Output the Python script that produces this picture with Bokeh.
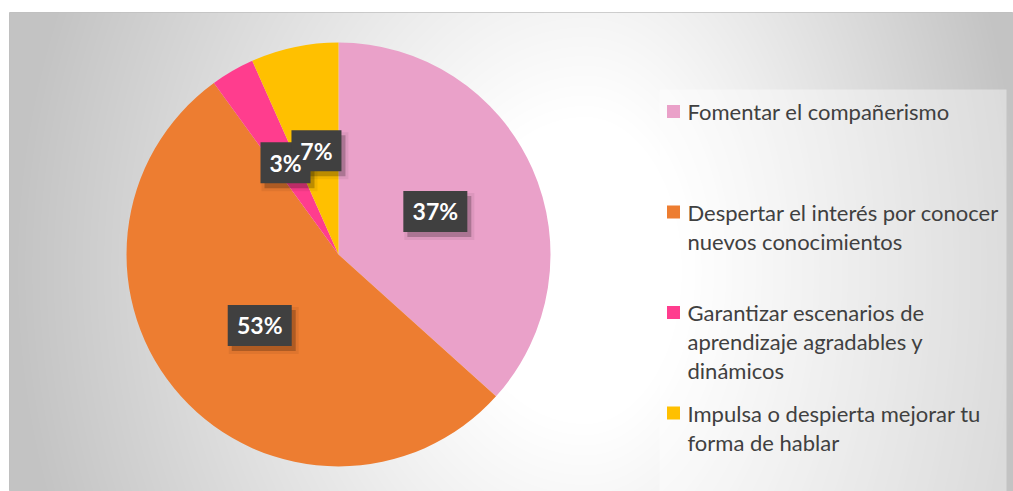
import numpy as np
from bokeh.plotting import figure
from bokeh.models import Range1d, ColumnDataSource
from bokeh.core.properties import value
from bokeh.embed import file_html
from bokeh.resources import INLINE

# ---------------- data ----------------
categories = [
    "Fomentar el compañerismo",
    "Despertar el interés por conocer nuevos conocimientos",
    "Garantizar escenarios de aprendizaje agradables y dinámicos",
    "Impulsa o despierta mejorar tu forma de hablar",
]
legend_lines = [
    ["Fomentar el compañerismo"],
    ["Despertar el interés por conocer", "nuevos conocimientos"],
    ["Garantizar escenarios de", "aprendizaje agradables y", "dinámicos"],
    ["Impulsa o despierta mejorar tu", "forma de hablar"],
]
counts = [11, 16, 1, 2]
colors = ["#EAA1C9", "#ED7D31", "#FF3D8E", "#FFC000"]

# ---------------- layout ----------------
W, H = 1013, 491
X0, X1 = 9, 1013          # frame in screen px
SY0, SY1 = 12, 491
def Y(sy):                # screen y -> data y
    return 491 - sy

p = figure(width=W, height=H, output_backend="svg", toolbar_location=None,
           x_range=Range1d(X0, X1), y_range=Range1d(Y(SY1), Y(SY0)),
           min_border_left=X0, min_border_top=SY0, min_border_right=0, min_border_bottom=0)
p.axis.visible = False
p.grid.visible = False
p.outline_line_color = "#c0c0c0"
p.outline_line_width = 1
p.border_fill_color = "white"
p.background_fill_color = "#e0e0e0"

# background radial gradient
fw, fh = X1 - X0, SY1 - SY0
sx = np.arange(fw) + X0 + 0.5
sy = np.arange(fh)[::-1] + SY0 + 0.5   # row 0 = bottom
gx, gy = np.meshgrid(sx, sy)
cx, cy = 585.0, 270.0
dx = gx - cx
scx = np.where(dx < 0, 575.0, 440.0)
t = np.sqrt((dx / scx) ** 2 + ((gy - cy) / 700.0) ** 2)
v = 255 - 60 * np.clip((t - 0.22) / 0.78, 0, 1) ** 1.05
v = v.astype(np.uint32)
img = (255 << 24) | (v << 16) | (v << 8) | v
p.image_rgba(image=[img.astype(np.uint32)], x=X0, y=Y(SY1), dw=fw, dh=fh)

# legend box (slightly lighter)
p.quad(left=[659], right=[1006], top=[Y(89)], bottom=[Y(SY1) - 5],
       fill_color="white", fill_alpha=0.4, line_color=None)

# ---------------- pie ----------------
total = sum(counts)
fr = np.array(counts) / total
cum = np.concatenate([[0], np.cumsum(fr)])
start = np.pi / 2 - 2 * np.pi * cum[:-1]
end = np.pi / 2 - 2 * np.pi * cum[1:]
PCX, PCY, R = 338, Y(254), 212
src = ColumnDataSource(dict(start=start, end=end, color=colors, cat=categories))
p.wedge(x=PCX, y=PCY, radius=R, start_angle="start", end_angle="end",
        direction="clock", fill_color="color", line_color=None, source=src)

# ---------------- data labels ----------------
mid = (start + end) / 2
lx = PCX + 0.5 * R * np.cos(mid)
ly = PCY + 0.5 * R * np.sin(mid)
pct = [f"{round(100 * f)}%" for f in fr]
bw = [14 * len(s) + 22 for s in pct]
lab = ColumnDataSource(dict(x=lx, y=ly, text=pct, w=bw, w2=[b + 6 for b in bw],
                            xs=lx + 4, ys=ly - 5))
p.rect(x="xs", y="ys", width="w2", height=47, width_units="screen", height_units="screen",
       fill_color="black", fill_alpha=0.06, line_color=None, source=lab)
p.rect(x="xs", y="ys", width="w", height=41, width_units="screen", height_units="screen",
       fill_color="black", fill_alpha=0.22, line_color=None, source=lab)
p.rect(x="x", y="y", width="w", height=41, width_units="screen", height_units="screen",
       fill_color="#404040", line_color=None, source=lab)
p.text(x="x", y="y", text="text", text_font=value("Lato"), text_font_style="bold",
       text_font_size="23px", text_color="white", text_align="center",
       text_baseline="middle", source=lab)

# ---------------- legend ----------------
entry_top = [111 + 100.5 * i for i in range(len(categories))]
line_gap = 29
tx, ty, tt = [], [], []
for i, lines in enumerate(legend_lines):
    for j, ln in enumerate(lines):
        tx.append(687)
        ty.append(Y(entry_top[i] + j * line_gap))
        tt.append(ln)
p.rect(x=[673] * len(colors), y=[Y(e) for e in entry_top], width=13, height=13,
       width_units="screen", height_units="screen", fill_color=colors, line_color=None)
p.text(x=tx, y=ty, text=tt, text_font=value("Lato"), text_font_size="22px",
       text_color="#404040", text_align="left", text_baseline="middle")

open("out.html", "w").write(file_html(p, INLINE))
